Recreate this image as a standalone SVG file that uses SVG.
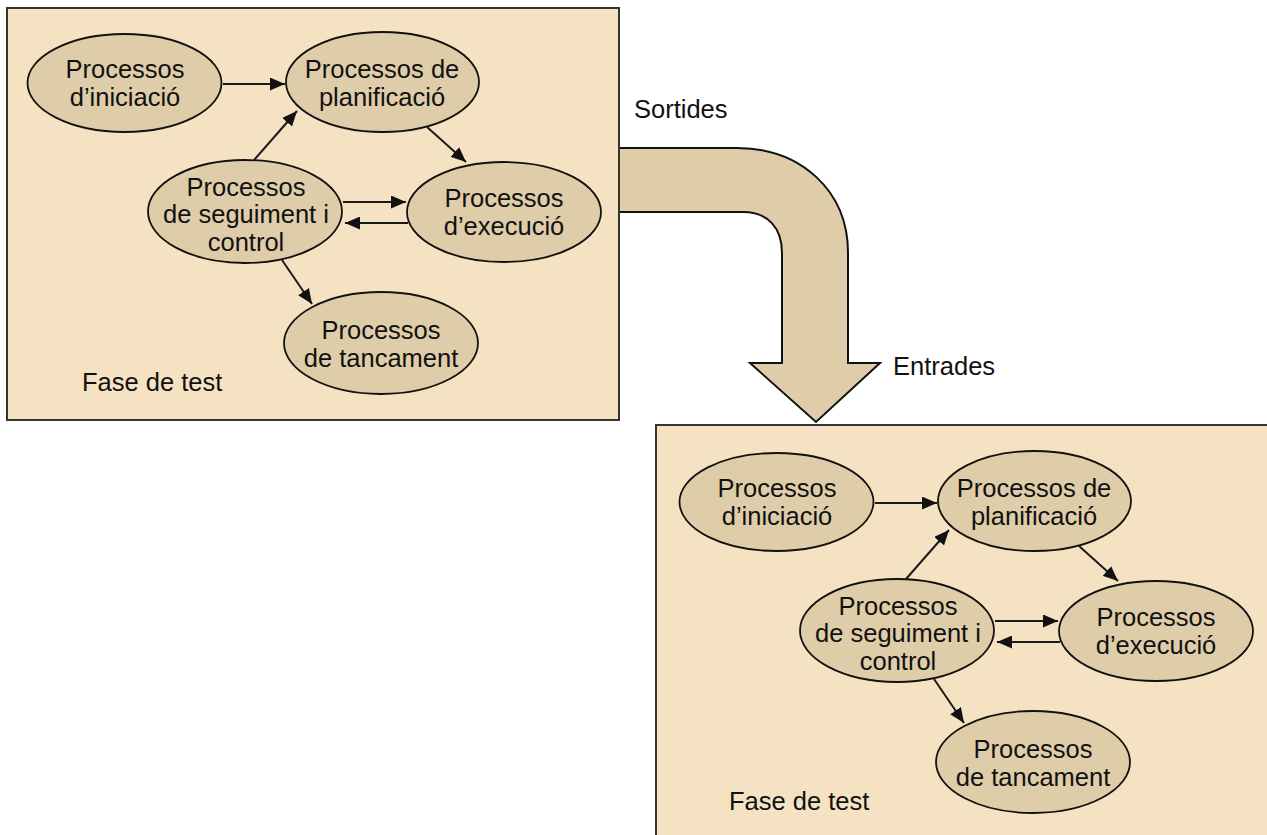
<svg xmlns="http://www.w3.org/2000/svg" width="1267" height="835" viewBox="0 0 1267 835">
<defs>
<style>
.box{fill:#f5e2c3;stroke:#333;stroke-width:2}
.node{fill:#dfcda9;stroke:#111;stroke-width:1.8}
.t{font-family:"Liberation Sans",Arial,sans-serif;font-size:25.5px;fill:#111;text-anchor:middle}
.lbl{font-family:"Liberation Sans",Arial,sans-serif;font-size:25.5px;fill:#111}
.edge{stroke:#1a1a1a;stroke-width:2;fill:none;marker-end:url(#ah)}
.big{fill:#dfcda9;stroke:#111;stroke-width:2}
</style>
<marker id="ah" markerUnits="userSpaceOnUse" markerWidth="15" markerHeight="13" refX="15" refY="6.5" orient="auto">
<path d="M0,0 L15,6.5 L0,13 Z" fill="#111"/>
</marker>
</defs>

<g id="phase1">
<rect class="box" x="7" y="8" width="612" height="412"/>
<text class="lbl" x="82" y="391">Fase de test</text>
</g>
<g id="phase2">
<rect class="box" x="656" y="425" width="625" height="425"/>
<text class="lbl" x="729" y="810">Fase de test</text>
</g>

<g id="flow-arrow">
<path class="big" d="M620,148 L737,148 C800,148 848,190 848,253 L848,363 L880,363 L816,422 L750,363 L782,363 L782,253 C782,228 768,212 743,212 L620,212"/>
<text class="lbl" x="634" y="118">Sortides</text>
<text class="lbl" x="893" y="375">Entrades</text>
</g>

<g id="p1-iniciacio">
<ellipse class="node" cx="124.5" cy="83" rx="97" ry="49"/>
<text class="t" x="125" y="78">Processos</text>
<text class="t" x="125" y="106">d’iniciació</text>
</g>
<g id="p1-planificacio">
<ellipse class="node" cx="382.5" cy="82" rx="96.5" ry="50"/>
<text class="t" x="382" y="78">Processos de</text>
<text class="t" x="382" y="106">planificació</text>
</g>
<g id="p1-seguiment">
<ellipse class="node" cx="245" cy="211.5" rx="97" ry="51.5"/>
<text class="t" x="246" y="196">Processos</text>
<text class="t" x="246" y="223">de seguiment i</text>
<text class="t" x="246" y="251">control</text>
</g>
<g id="p1-execucio">
<ellipse class="node" cx="504" cy="212" rx="97" ry="50"/>
<text class="t" x="504" y="207">Processos</text>
<text class="t" x="504" y="235">d’execució</text>
</g>
<g id="p1-tancament">
<ellipse class="node" cx="381" cy="343" rx="97" ry="51"/>
<text class="t" x="381" y="339">Processos</text>
<text class="t" x="381" y="367">de tancament</text>
</g>

<g id="p2-iniciacio" transform="translate(652,419)">
<ellipse class="node" cx="124.5" cy="83" rx="97" ry="49"/>
<text class="t" x="125" y="78">Processos</text>
<text class="t" x="125" y="106">d’iniciació</text>
</g>
<g id="p2-planificacio" transform="translate(652,419)">
<ellipse class="node" cx="382.5" cy="82" rx="96.5" ry="50"/>
<text class="t" x="382" y="78">Processos de</text>
<text class="t" x="382" y="106">planificació</text>
</g>
<g id="p2-seguiment" transform="translate(652,419)">
<ellipse class="node" cx="245" cy="211.5" rx="97" ry="51.5"/>
<text class="t" x="246" y="196">Processos</text>
<text class="t" x="246" y="223">de seguiment i</text>
<text class="t" x="246" y="251">control</text>
</g>
<g id="p2-execucio" transform="translate(652,419)">
<ellipse class="node" cx="504" cy="212" rx="97" ry="50"/>
<text class="t" x="504" y="207">Processos</text>
<text class="t" x="504" y="235">d’execució</text>
</g>
<g id="p2-tancament" transform="translate(652,419)">
<ellipse class="node" cx="381" cy="343" rx="97" ry="51"/>
<text class="t" x="381" y="339">Processos</text>
<text class="t" x="381" y="367">de tancament</text>
</g>

<g id="connectors">
<g id="c1">
<line class="edge" x1="223" y1="84" x2="285" y2="84"/>
<line class="edge" x1="254" y1="160" x2="297" y2="111"/>
<line class="edge" x1="427" y1="127" x2="466" y2="162"/>
<line class="edge" x1="343" y1="202" x2="406" y2="202"/>
<line class="edge" x1="408" y1="223" x2="345" y2="223"/>
<line class="edge" x1="282" y1="260" x2="312" y2="304"/>
</g>
<g id="c2" transform="translate(652,419)">
<line class="edge" x1="223" y1="84" x2="285" y2="84"/>
<line class="edge" x1="254" y1="160" x2="297" y2="111"/>
<line class="edge" x1="427" y1="127" x2="466" y2="162"/>
<line class="edge" x1="343" y1="202" x2="406" y2="202"/>
<line class="edge" x1="408" y1="223" x2="345" y2="223"/>
<line class="edge" x1="282" y1="260" x2="312" y2="304"/>
</g>
</g>
</svg>
